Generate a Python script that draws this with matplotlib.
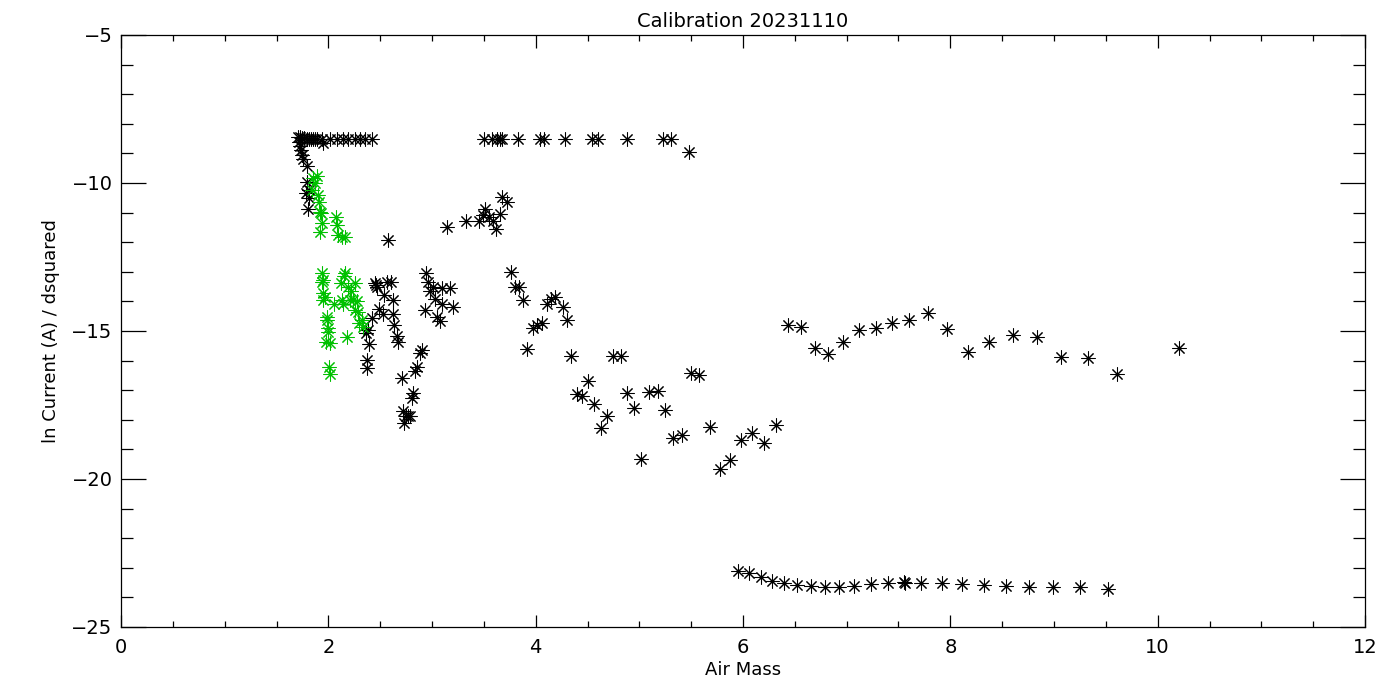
import matplotlib
matplotlib.use("Agg")
import matplotlib.pyplot as plt
from matplotlib.ticker import MultipleLocator

title = "Calibration 20231110"
xlabel = "Air Mass"
ylabel = "ln Current (A) / dsquared"

black_x = [1.71, 1.73, 1.75, 1.77, 1.79, 1.81, 1.83, 1.85, 1.87, 1.89, 1.94, 2.02, 2.08, 2.14, 2.19, 2.26,
           2.31, 2.35, 2.42, 1.95, 1.72, 1.73, 1.74, 1.75, 1.76, 1.79, 1.79, 1.81, 1.78, 1.81, 1.80,
           3.50, 3.58, 3.63, 3.66, 3.68, 3.83, 4.04, 4.08, 4.28, 4.54, 4.60, 4.88, 5.23, 5.31, 5.48,
           2.58, 3.14, 3.33, 3.45, 3.49, 3.51, 3.55, 3.59, 3.62, 3.66, 3.68, 3.72,
           2.45, 2.46, 2.47, 2.57, 2.60, 2.54, 2.62, 2.49, 2.53, 2.62, 2.42, 2.63, 2.38, 2.36, 2.66,
           2.67, 2.39, 2.37, 2.37, 2.90, 2.88, 2.86, 2.84, 2.71, 2.82, 2.81, 2.72, 2.75, 2.77, 2.79,
           2.73, 2.94, 2.96, 3.01, 2.98, 3.03, 3.10, 3.17, 3.10, 3.20, 2.93, 3.05, 3.08,
           3.76, 3.80, 3.84, 3.88, 3.92, 3.97, 4.01, 4.06, 4.11, 4.15, 4.19, 4.26, 4.30, 4.34, 4.40,
           4.45, 4.50, 4.56, 4.63, 4.69, 4.75, 4.82, 4.88, 4.95, 5.02, 5.09, 5.18, 5.25, 5.32, 5.41,
           5.50, 5.58, 5.68, 5.78, 5.87, 5.98, 6.09, 6.20, 6.32, 6.43, 6.56, 6.69, 6.82, 6.96, 7.12,
           7.28, 7.44, 7.60, 7.78, 7.97, 8.17, 8.37, 8.60, 8.84, 9.07, 9.33, 9.61, 10.21,
           5.95, 6.06, 6.17, 6.28, 6.40, 6.52, 6.66, 6.79, 6.93, 7.07, 7.23, 7.40, 7.55, 7.56, 7.72,
           7.92, 8.11, 8.32, 8.54, 8.76, 8.99, 9.25, 9.52]
black_y = [-8.45, -8.45, -8.47, -8.48, -8.5, -8.5, -8.5, -8.5, -8.5, -8.5, -8.5, -8.5, -8.5, -8.5, -8.5, -8.5,
           -8.5, -8.5, -8.5, -8.65, -8.6, -8.75, -8.9, -9.05, -9.2, -9.43, -9.97, -10.24, -10.35, -10.5, -10.88,
           -8.5, -8.5, -8.5, -8.5, -8.5, -8.5, -8.5, -8.5, -8.5, -8.5, -8.5, -8.5, -8.5, -8.5, -8.95,
           -11.93, -11.49, -11.3, -11.3, -11.08, -10.88, -11.15, -11.3, -11.55, -11.05, -10.47, -10.64,
           -13.38, -13.45, -13.5, -13.35, -13.35, -13.78, -13.95, -14.26, -14.43, -14.43, -14.56, -14.8, -14.97, -15.07, -15.17,
           -15.37, -15.44, -15.98, -16.25, -15.64, -15.74, -16.2, -16.35, -16.6, -17.1, -17.26, -17.7, -17.87, -17.87, -17.87,
           -18.1, -13.04, -13.34, -13.5, -13.64, -13.92, -13.55, -13.55, -14.1, -14.2, -14.3, -14.53, -14.66,
           -13.0, -13.51, -13.51, -13.95, -15.6, -14.9, -14.8, -14.73, -14.1, -13.92, -13.86, -14.2, -14.63, -15.84, -17.13,
           -17.2, -16.69, -17.47, -18.28, -17.87, -15.84, -15.84, -17.1, -17.6, -19.32, -17.06, -17.03, -17.67, -18.6, -18.5,
           -16.42, -16.49, -18.24, -19.66, -19.36, -18.68, -18.45, -18.78, -18.18, -14.8, -14.87, -15.57, -15.78, -15.37, -14.97,
           -14.9, -14.73, -14.63, -14.39, -14.93, -15.7, -15.37, -15.13, -15.2, -15.88, -15.91, -16.45, -15.57,
           -23.1, -23.18, -23.31, -23.45, -23.5, -23.58, -23.61, -23.65, -23.65, -23.61, -23.55, -23.51, -23.48, -23.5, -23.5,
           -23.51, -23.55, -23.58, -23.61, -23.65, -23.65, -23.65, -23.71]

green_x = [1.89, 1.85, 1.87, 1.84, 1.90, 1.91, 1.92, 1.93, 1.94, 1.92, 2.07, 2.08, 2.09, 2.13, 2.16,
           1.94, 1.95, 1.94, 2.16, 2.15, 2.12, 2.26, 2.19, 2.22, 1.95, 1.97, 1.95, 2.13, 2.21, 2.24,
           2.28, 2.05, 2.14, 2.26, 2.29, 1.99, 1.99, 2.32, 2.30, 2.33, 2.00, 2.00, 2.18, 1.98, 2.02,
           2.01, 2.02]
green_y = [-9.76, -9.82, -10.0, -10.24, -10.4, -10.64, -10.98, -11.02, -11.35, -11.66, -11.15, -11.42, -11.76, -11.82, -11.82,
           -13.04, -13.28, -13.35, -13.04, -13.15, -13.38, -13.38, -13.5, -13.64, -13.7, -13.84, -13.95, -13.95, -13.95, -13.95,
           -14.0, -14.1, -14.1, -14.3, -14.36, -14.53, -14.63, -14.63, -14.73, -14.86, -14.9, -15.03, -15.2, -15.37, -15.4,
           -16.2, -16.45]

xlim = (0, 12)
ylim = (-25, -5)

plt.rcParams['font.family'] = ['DejaVu Sans']
fig = plt.figure(figsize=(14, 7), dpi=100)
ax = fig.add_axes([121/1400, 1 - 627/700, (1365-121)/1400, (627-35)/700])

star = (8, 2, 0)
ax.plot(black_x, black_y, linestyle='none', marker=star, markersize=10,
        markeredgecolor='black', markerfacecolor='black', markeredgewidth=0.75, clip_on=False)
ax.plot(green_x, green_y, linestyle='none', marker=star, markersize=10,
        markeredgecolor='#00c000', markerfacecolor='#00c000', markeredgewidth=0.75, clip_on=False)

ax.set_xlim(*xlim)
ax.set_ylim(*ylim)
ax.xaxis.set_major_locator(MultipleLocator(2))
ax.xaxis.set_minor_locator(MultipleLocator(0.5))
ax.yaxis.set_major_locator(MultipleLocator(5))
ax.yaxis.set_minor_locator(MultipleLocator(1))
ax.tick_params(axis='x', which='major', direction='in', length=9, width=0.9, top=True, bottom=True, labelsize=14, pad=8)
ax.tick_params(axis='x', which='minor', direction='in', length=4.5, width=0.9, top=True, bottom=True)
ax.tick_params(axis='y', which='major', direction='in', length=18, width=0.9, left=True, right=True, labelsize=14, pad=6)
ax.tick_params(axis='y', which='minor', direction='in', length=8.7, width=0.9, left=True, right=True)
for s in ax.spines.values():
    s.set_linewidth(0.9)

ax.set_title(title, fontsize=14, pad=6)
ax.set_xlabel(xlabel, fontsize=13, labelpad=3)
ax.set_ylabel(ylabel, fontsize=13, labelpad=8)

fig.savefig("out.png", dpi=100)
